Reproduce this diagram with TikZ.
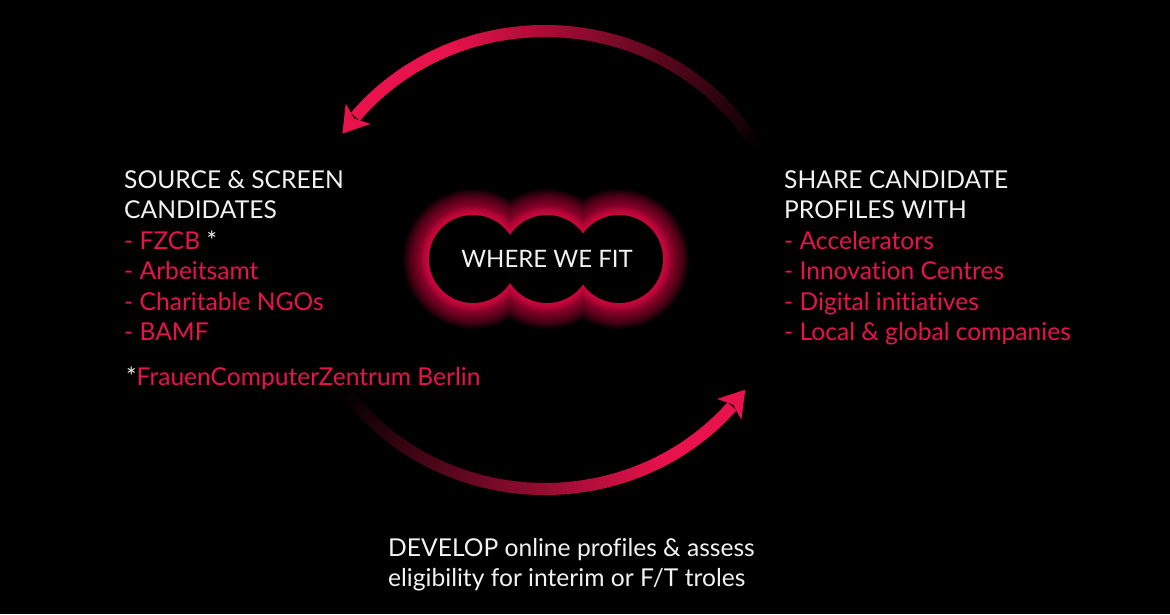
\documentclass[tikz,border=0pt]{standalone}
\usepackage{fontspec}
\setmainfont{Lato}[Ligatures={NoCommon,NoContextual}]
\usetikzlibrary{arrows.meta}
\definecolor{fitpink}{HTML}{E8124C}
\definecolor{fitwhite}{HTML}{F2F2F2}
\begin{document}
\begin{tikzpicture}[x=1pt,y=1pt,
  lbl/.style={anchor=base west, inner sep=0pt, font=\fontsize{24.6}{30}\selectfont, text=fitwhite},
  item/.style={lbl, text=fitpink},
  band/.style={line width=12pt}]
\fill[black] (0,0) rectangle (1170,614);
\useasboundingbox (0,0) rectangle (1170,614);
\coordinate (c) at (545,354);
% upper arc: fades in from the right, arrow points down-left
\foreach \a in {28,...,140} {
  \pgfmathsetmacro\t{min(100,(\a-28)/0.85)}
  \draw[band, fitpink!\t!black] (c) ++(\a:243 and 229) arc[start angle=\a, end angle=\a+1.3, x radius=243, y radius=229];
}
\fill[fitpink, shift={(c)}] (146.5:243 and 229) -- (140.3:259 and 245) -- (141.8:243 and 229) -- (140.3:227 and 213) -- cycle;
% lower arc: fades in from the left, arrow points up-right
\foreach \a in {214,...,319} {
  \pgfmathsetmacro\t{min(100,(\a-214)/0.85)}
  \draw[band, fitpink!\t!black] (c) ++(\a:243 and 229) arc[start angle=\a, end angle=\a+1.3, x radius=243, y radius=229];
}
\fill[fitpink, shift={(c)}] (325.5:243 and 229) -- (319.3:259 and 245) -- (320.8:243 and 229) -- (319.3:227 and 213) -- cycle;
% glowing triple circle
\foreach \w in {52,50,...,2}
  \draw[fitpink, opacity=0.05, line width=\w pt] (473,355) circle[radius=44] (547,355) circle[radius=44] (619,355) circle[radius=44];
\foreach \w in {18,16,...,2}
  \draw[fitpink, opacity=0.09, line width=\w pt] (473,355) circle[radius=44] (547,355) circle[radius=44] (619,355) circle[radius=44];
\fill[black] (473,355) circle[radius=44] (547,355) circle[radius=44] (619,355) circle[radius=44];
\node[font=\fontsize{24}{28}\selectfont, text=fitwhite, inner sep=0pt] (fit) at (547,355) {WHERE WE FIT};
% left block
\node[lbl] (l1) at (124,425) {SOURCE \& SCREEN};
\node[lbl] (l2) at (124,395) {CANDIDATES};
\node[item] (l3) at (124,364) {- FZCB\ \textcolor{fitwhite}{*}};
\node[item] (l4) at (124,334) {- Arbeitsamt};
\node[item] (l5) at (124,303) {- Charitable NGOs};
\node[item] (l6) at (124,273) {- BAMF};
\node[item] (l7) at (126,229) {\textcolor{fitwhite}{*}FrauenComputerZentrum Berlin};
% right block
\node[lbl] (r1) at (784,425) {SHARE CANDIDATE};
\node[lbl] (r2) at (784,395) {PROFILES WITH};
\node[item] (r3) at (784,364) {- Accelerators};
\node[item] (r4) at (784,334) {- Innovation Centres};
\node[item] (r5) at (784,303) {- Digital initiatives};
\node[item] (r6) at (784,273) {- Local \& global companies};
% bottom block
\node[lbl] (b1) at (388,58) {DEVELOP online profiles \& assess};
\node[lbl] (b2) at (388,28) {eligibility for interim or F/T troles};
\end{tikzpicture}
\end{document}
